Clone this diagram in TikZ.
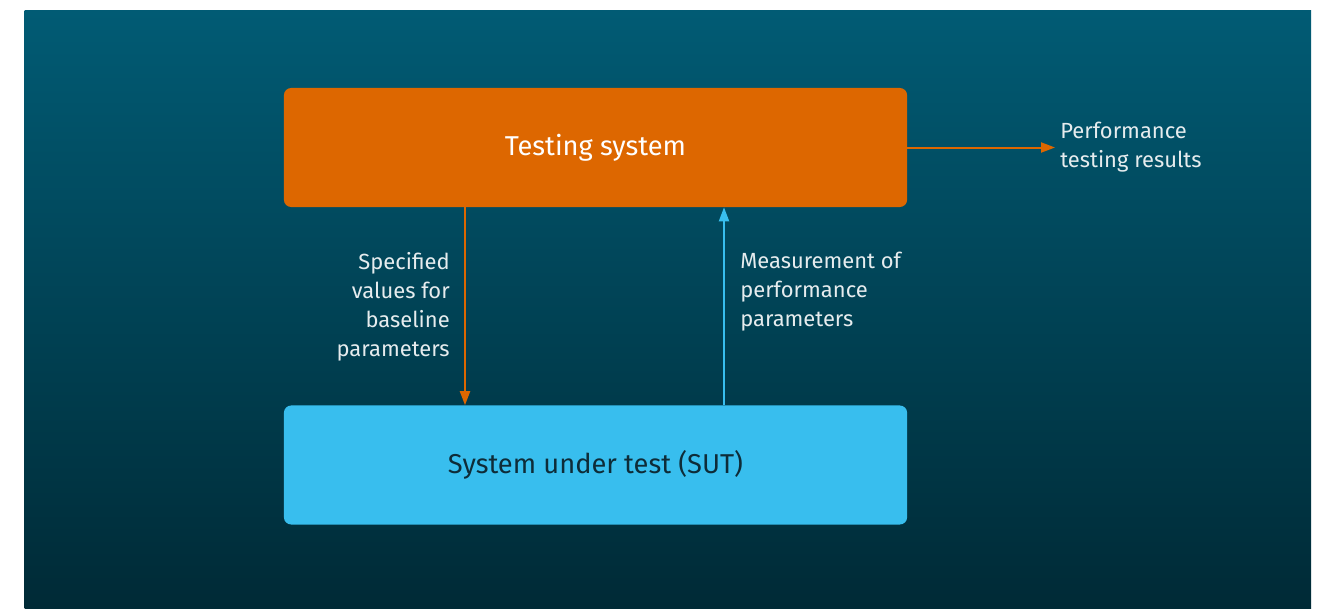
\documentclass[tikz,border=0pt]{standalone}
\usepackage{fontspec}
\setmainfont{Fira Sans}
\usetikzlibrary{arrows.meta, positioning}
\definecolor{bgtop}{HTML}{015B74}
\definecolor{bgbottom}{HTML}{002A36}
\definecolor{testorange}{HTML}{DD6700}
\definecolor{sutblue}{HTML}{38BEEE}
\definecolor{labelgray}{HTML}{E6ECEE}
\definecolor{sutdark}{HTML}{0E2C38}

\begin{document}
\begin{tikzpicture}[x=0.025cm, y=0.025cm,
  box/.style={rounded corners=0.18cm, minimum width=15.575cm, minimum height=2.975cm,
    inner sep=0pt, font=\fontsize{19.4}{22}\selectfont},
  lbl/.style={text=labelgray, inner sep=0pt, font=\fontsize{15.6}{20.6}\selectfont},
  flow/.style={-{Triangle[length=0.35cm, width=0.25cm]}, line width=0.05cm}]
\useasboundingbox (0,0) rectangle (1328,608);
% background
\shade[top color=bgtop, bottom color=bgbottom] (24.5,0) rectangle (1311,597);
% testing system and SUT
\node[box, fill=testorange, text=white] (test) at (595.5,460.5) {Testing system};
\node[box, fill=sutblue, text=sutdark] (sut) at (595.5,143) {System under test (SUT)};
% arrow columns
\coordinate (down) at (465,301);
\coordinate (up) at (724,316);
\coordinate (result) at (1055,460.5);
% specified values
\draw[flow, testorange] (test.south -| down) -- (sut.north -| down);
\node[lbl, align=right, left=0.375cm of down] (specified) {Specified\\values for\\baseline\\parameters};
% measurement
\draw[flow, sutblue] (sut.north -| up) -- (test.south -| up);
\node[lbl, align=left, right=0.4cm of up] (measured) {Measurement of\\performance\\parameters};
% results
\draw[flow, testorange] (test.east) -- (result);
\node[lbl, align=left, right=0.125cm of result] (results) {Performance\\testing results};
\end{tikzpicture}
\end{document}
